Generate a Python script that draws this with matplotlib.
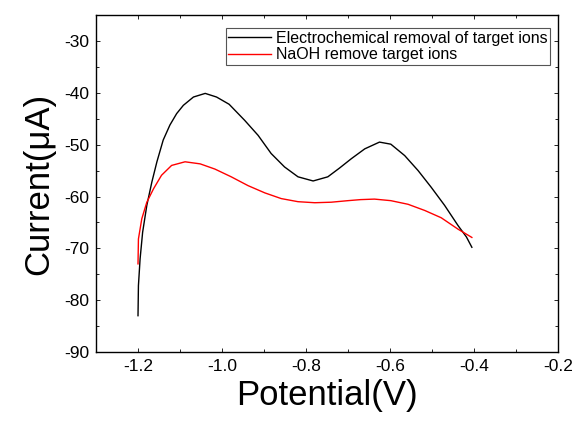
import numpy as np
import matplotlib
matplotlib.use('Agg')
import matplotlib.pyplot as plt
from matplotlib.ticker import MultipleLocator
from matplotlib import rcParams
rcParams['font.family'] = ['Liberation Sans', 'DejaVu Sans']

# values
pot_e = [-1.200, -1.199, -1.195, -1.189, -1.179, -1.167, -1.155, -1.140, -1.124,
         -1.108, -1.092, -1.068, -1.040, -1.013, -0.983, -0.946, -0.914, -0.883,
         -0.851, -0.819, -0.783, -0.748, -0.720, -0.692, -0.660, -0.625, -0.598,
         -0.565, -0.533, -0.502, -0.470, -0.438, -0.418, -0.405]
cur_e = [-83.0, -77.2, -72.0, -66.9, -61.7, -57.2, -53.3, -49.1, -46.2,
         -44.0, -42.4, -40.8, -40.1, -40.8, -42.2, -45.3, -48.2, -51.7,
         -54.3, -56.2, -57.0, -56.2, -54.5, -52.7, -50.8, -49.5, -49.9,
         -52.1, -55.0, -58.2, -61.7, -65.6, -67.8, -69.8]

pot_n = [-1.200, -1.199, -1.191, -1.179, -1.163, -1.144, -1.120, -1.088, -1.052,
         -1.017, -0.978, -0.938, -0.898, -0.859, -0.819, -0.779, -0.740, -0.700,
         -0.670, -0.637, -0.598, -0.557, -0.517, -0.478, -0.438, -0.405]
cur_n = [-73.0, -68.2, -64.3, -61.1, -58.5, -55.9, -54.0, -53.3, -53.7,
         -54.7, -56.2, -57.9, -59.3, -60.4, -61.0, -61.2, -61.1, -60.8,
         -60.6, -60.5, -60.8, -61.5, -62.7, -64.1, -66.3, -67.9]

fig = plt.figure(figsize=(5.77, 4.21), dpi=100)
ax = fig.add_axes([0.1664, 0.164, 0.8006, 0.8])

ax.plot(pot_e, cur_e, color='black', lw=1.0, label='Electrochemical removal of target ions')
ax.plot(pot_n, cur_n, color='red', lw=1.0, label='NaOH remove target ions')

ax.set_xlim(-1.3, -0.2)
ax.set_ylim(-90, -25)
ax.xaxis.set_minor_locator(MultipleLocator(0.1))
ax.yaxis.set_minor_locator(MultipleLocator(5))
ax.set_xticks([-1.2, -1.0, -0.8, -0.6, -0.4, -0.2])
ax.set_xticklabels(['-1.2', '-1.0', '-0.8', '-0.6', '-0.4', '-0.2'])
ax.set_yticks([-90, -80, -70, -60, -50, -40, -30])
ax.set_yticklabels(['-90', '-80', '-70', '-60', '-50', '-40', '-30'])
ax.tick_params(which='both', direction='in', top=True, right=True, width=0.6, pad=5)
ax.tick_params(which='major', length=3, labelsize=12.5)
ax.tick_params(which='minor', length=2)
for s in ax.spines.values():
	s.set_linewidth(1.0)

ax.set_xlabel('Potential(V)', fontsize=25, labelpad=4)
ax.set_ylabel('Current(\u03bcA)', fontsize=25, labelpad=6)

leg = ax.legend(loc='upper right', bbox_to_anchor=(0.983, 0.961), borderaxespad=0,
	fontsize=11.5, fancybox=False, framealpha=1, handlelength=2.7,
	handletextpad=0.3, borderpad=0.15, labelspacing=0.1)
leg.get_frame().set_edgecolor('#555555')
leg.get_frame().set_linewidth(0.8)

fig.savefig('out.png', dpi=100)
